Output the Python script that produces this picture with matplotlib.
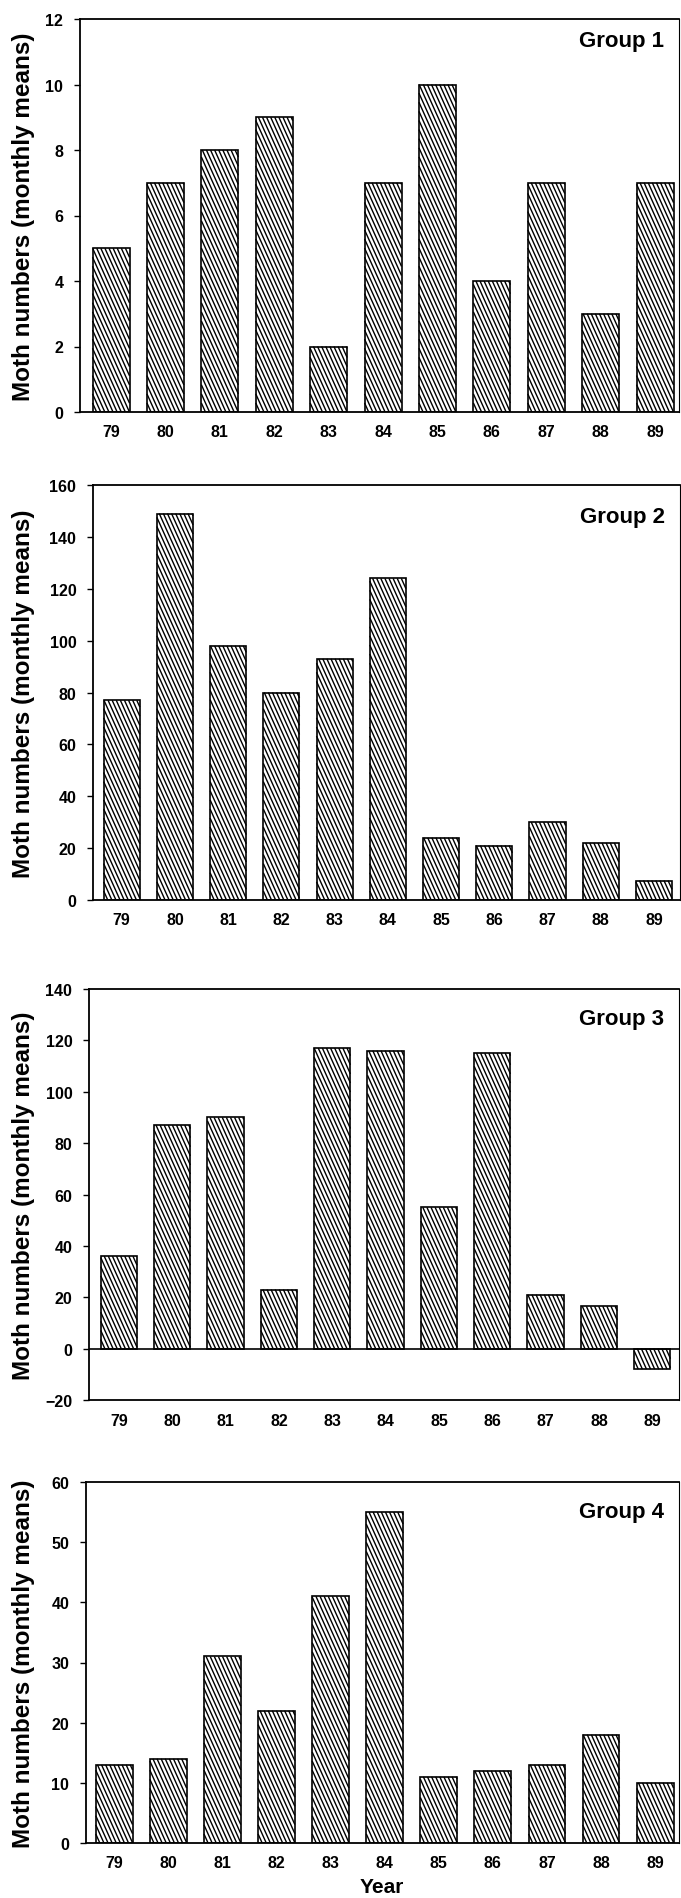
import matplotlib
matplotlib.use('Agg')
import matplotlib.pyplot as plt
import numpy as np
from matplotlib.collections import LineCollection
from matplotlib.transforms import IdentityTransform

plt.rcParams['font.family'] = ['Liberation Sans', 'DejaVu Sans']

years = ['79', '80', '81', '82', '83', '84', '85', '86', '87', '88', '89']
group1 = [5, 7, 8, 9, 2, 7, 10, 4, 7, 3, 7]
group2 = [77, 149, 98, 80, 93, 124, 24, 21, 30, 22, 7.5]
group3 = [36, 87, 90, 23, 117, 116, 55, 115, 21, 16.5, -8]
group4 = [13, 14, 31, 22, 41, 55, 11, 12, 13, 18, 10]
titles = ['Group 1', 'Group 2', 'Group 3', 'Group 4']

W, H = 681, 1899
# panel boxes in pixels: left, right, top, bottom
boxes = [(80, 679, 20, 413), (93, 680, 486, 901),
         (89, 679, 990, 1401), (86, 679, 1483, 1844)]
ylims = [(0, 12), (0, 160), (-20, 140), (0, 60)]
ysteps = [2, 20, 20, 10]
xlims = [(-0.57, 10.44), (-0.54, 10.49), (-0.56, 10.5), (-0.52, 10.44)]
title_drop = [22, 31, 30, 30]  # px below top spine
series = [group1, group2, group3, group4]

fig = plt.figure(figsize=(W / 100, H / 100), dpi=100)


def hatch_bar(ax, patch, spacing=4.1, slope=0.45):
    # steep back-slash hatching in pixel space, clipped by hand to the bar
    bb = patch.get_window_extent()
    bx0, bx1, by0, by1 = bb.x0, bb.x1, bb.y0, bb.y1
    h = by1 - by0
    segs = []
    x0 = bx0 - slope * h
    while x0 < bx1:
        # line: x = x0 + slope * (by1 - y)
        ya = min(by1, by1 - (bx0 - x0) / slope)
        yb = max(by0, by1 - (bx1 - x0) / slope)
        if ya > yb:
            segs.append([(x0 + slope * (by1 - ya), ya),
                         (x0 + slope * (by1 - yb), yb)])
        x0 += spacing
    lc = LineCollection(segs, colors='black', linewidths=1.0,
                        transform=IdentityTransform(), zorder=2.5)
    ax.add_collection(lc)


for i, vals in enumerate(series):
    l, r, t, b = boxes[i]
    ax = fig.add_axes([l / W, 1 - b / H, (r - l) / W, (b - t) / H])
    x = np.arange(len(years))
    ax.set_xlim(*xlims[i])
    ax.set_ylim(*ylims[i])
    bars = ax.bar(x, vals, width=0.68, color='white', edgecolor='none', zorder=2)
    for p in bars:
        hatch_bar(ax, p)
    ax.bar(x, vals, width=0.68, fill=False, edgecolor='black',
           linewidth=1.2, zorder=3)
    if ylims[i][0] < 0:
        ax.axhline(0, color='black', linewidth=1.2, zorder=3)

    lo, hi = ylims[i]
    ax.set_yticks(np.arange(lo, hi + 1, ysteps[i]))
    ax.set_xticks(x)
    ax.set_xticklabels(years)
    ax.tick_params(axis='x', length=0, pad=9, labelsize=11.5)
    ax.tick_params(axis='y', length=4, width=1, direction='out', pad=8,
                   labelsize=11.5)
    for lab in ax.get_xticklabels() + ax.get_yticklabels():
        lab.set_fontweight('bold')
    for s in ax.spines.values():
        s.set_linewidth(1.3)
    ax.spines['right'].set_linewidth(0.8)

    ax.text(0.975, 1 - title_drop[i] / (b - t), titles[i],
            transform=ax.transAxes, ha='right', va='center', fontsize=16,
            fontweight='bold')
    fig.text(24 / W, 1 - (t + b) / 2 / H, 'Moth numbers (monthly means)',
             rotation=90, ha='center', va='center', fontsize=17.5,
             fontweight='bold')

fig.text(382 / W, 1 - 1888 / H, 'Year', ha='center', va='center',
         fontsize=15, fontweight='bold')

fig.savefig('out.png', dpi=100)
